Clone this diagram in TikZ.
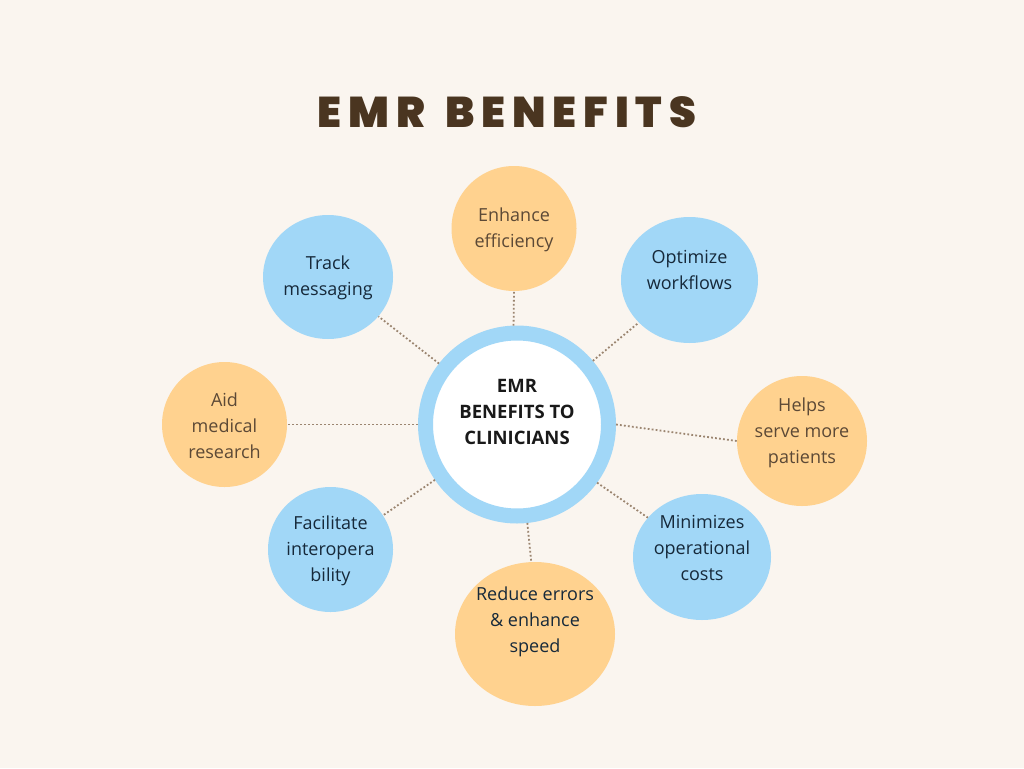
\documentclass[tikz,border=0pt]{standalone}
\usepackage{fontspec}
\setmainfont{Open Sans}
\newfontfamily\titlefont[LetterSpace=16,WordSpace=1.4]{Poppins Black}
\usetikzlibrary{shapes.geometric}
\definecolor{bgcream}{HTML}{FAF5EF}
\definecolor{skyblue}{HTML}{A1D7F7}
\definecolor{peach}{HTML}{FFD28F}
\definecolor{cocoa}{HTML}{4A3520}
\definecolor{navyink}{HTML}{16293A}
\definecolor{linkgray}{HTML}{9B8570}
\begin{document}
\begin{tikzpicture}[x=1pt,y=-1pt,
    bluedot/.style={ellipse, fill=skyblue, inner sep=0pt},
    peachdot/.style={ellipse, fill=peach, inner sep=0pt},
    bluetext/.style={align=center, text=navyink, font=\fontsize{18}{26}\selectfont},
    peachtext/.style={align=center, text=cocoa!90, font=\fontsize{18}{26}\selectfont},
    link/.style={linkgray, line width=1.8pt, dash pattern=on 1.8pt off 2.2pt}]
    \fill[bgcream] (0,0) rectangle (1024,768);
    \useasboundingbox (0,0) rectangle (1024,768);

    \node[text=cocoa, font=\titlefont\fontsize{43}{50}\selectfont] (title) at (507,112) {EMR BENEFITS};

    % hub with ring
    \node[circle, fill=white, draw=skyblue, line width=15pt, inner sep=0pt, minimum size=183pt] (hub) at (517,424.5) {};
    \node[align=center, text=black!90, font=\bfseries\fontsize{18.5}{26}\selectfont] (hubtext) at ([yshift=13pt]hub.center) {EMR\\BENEFITS TO\\CLINICIANS};

    % satellites
    \node[peachdot, minimum width=125pt, minimum height=125pt] (enhance) at (514,228.5) {};
    \node[bluedot, minimum width=137pt, minimum height=126pt] (optimize) at (689.5,280) {};
    \node[peachdot, minimum width=130pt, minimum height=130pt] (serve) at (802,441) {};
    \node[bluedot, minimum width=138pt, minimum height=126pt] (costs) at (702,557) {};
    \node[peachdot, minimum width=160pt, minimum height=144pt] (errors) at (535,634) {};
    \node[bluedot, minimum width=125pt, minimum height=125pt] (interop) at (330.5,549.5) {};
    \node[peachdot, minimum width=125pt, minimum height=125pt] (research) at (224.5,424.5) {};
    \node[bluedot, minimum width=130pt, minimum height=124pt] (track) at (328,277) {};

    \node[peachtext] at ([yshift=-1pt]enhance.center) {Enhance\\efficiency};
    \node[bluetext] at ([yshift=10pt]optimize.center) {Optimize\\workflows};
    \node[peachtext] at ([yshift=8pt]serve.center) {Helps\\serve more\\patients};
    \node[bluetext] at ([yshift=9pt]costs.center) {Minimizes\\operational\\costs};
    \node[bluetext] at ([yshift=12pt]errors.center) {Reduce errors\\\& enhance\\speed};
    \node[bluetext] at ([yshift=-1pt]interop.center) {Facilitate\\interopera\\bility};
    \node[peachtext] at ([yshift=-1pt]research.center) {Aid\\medical\\research};
    \node[bluetext] at ([yshift=-1pt]track.center) {Track\\messaging};

    % dotted spokes
    \foreach \a/\b in {hub.92/enhance.south, hub.40/optimize.220, hub.0/serve.west,
        hub.324/costs.144, hub.276/errors.93, hub.214/interop.33,
        hub.180/research.east, hub.142/track.322}
        \draw[link] (\a) -- (\b);
\end{tikzpicture}
\end{document}
